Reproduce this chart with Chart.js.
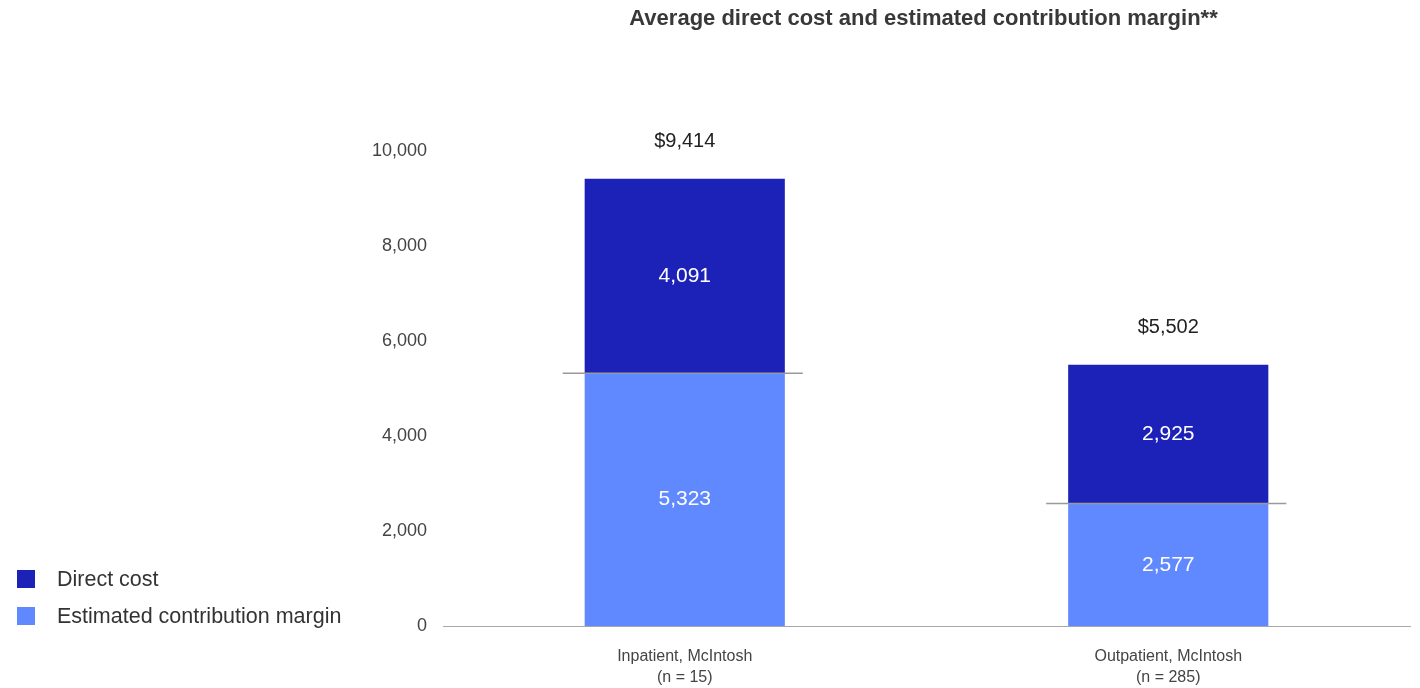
<!DOCTYPE html>
<html>
<head>
<meta charset="utf-8">
<title>Average direct cost and estimated contribution margin</title>
<script src="https://cdn.jsdelivr.net/npm/chart.js@4.4.1/dist/chart.umd.min.js"></script>
<style>
  html, body { margin: 0; padding: 0; background: #fff; }
  #wrap { position: relative; width: 1420px; height: 688px; }
</style>
</head>
<body>
<div id="wrap"><canvas id="costChart"></canvas></div>
<script>
// categories and series
const categories = [
  ["Inpatient, McIntosh", "(n = 15)"],
  ["Outpatient, McIntosh", "(n = 285)"]
];
const contributionMargin = [5323, 2577];
const directCost = [4091, 2925];
const yTicks = [0, 2000, 4000, 6000, 8000, 10000];

const DARK = "#1c22b7";
const LIGHT = "#6189ff";
const FONT = "'Liberation Sans', Arial, sans-serif";

const fmt = (v) => v.toLocaleString("en-US");

// values inside each segment, totals above, and the thin divider between segments
const barLabels = {
  id: "barLabels",
  afterDatasetsDraw(chart) {
    const ctx = chart.ctx;
    const yScale = chart.scales.y;
    const bottomMeta = chart.getDatasetMeta(0);
    const topMeta = chart.getDatasetMeta(1);
    ctx.save();
    ctx.textAlign = "center";
    ctx.textBaseline = "middle";

    bottomMeta.data.forEach((bar, i) => {
      const half = bar.width / 2;
      const yDiv = yScale.getPixelForValue(contributionMargin[i]);
      ctx.strokeStyle = "#9a9a9a";
      ctx.lineWidth = 1.5;
      ctx.beginPath();
      ctx.moveTo(bar.x - half - 22, yDiv);
      ctx.lineTo(bar.x + half + 18, yDiv);
      ctx.stroke();
    });

    ctx.fillStyle = "#ffffff";
    ctx.font = "21px " + FONT;
    bottomMeta.data.forEach((bar, i) => {
      ctx.fillText(fmt(contributionMargin[i]), bar.x, (bar.y + bar.base) / 2);
    });
    topMeta.data.forEach((bar, i) => {
      ctx.fillText(fmt(directCost[i]), bar.x, (bar.y + bar.base) / 2);
    });

    ctx.fillStyle = "#222222";
    ctx.font = "20px " + FONT;
    topMeta.data.forEach((bar, i) => {
      const total = contributionMargin[i] + directCost[i];
      ctx.fillText("$" + fmt(total), bar.x, bar.y - 37);
    });
    ctx.restore();
  }
};

// title centred over the plot area, legend at the lower left
const decorations = {
  id: "decorations",
  afterDraw(chart) {
    const ctx = chart.ctx;
    const area = chart.chartArea;
    ctx.save();
    ctx.fillStyle = "#383838";
    ctx.font = "bold 22px " + FONT;
    ctx.textAlign = "center";
    ctx.textBaseline = "middle";
    ctx.fillText("Average direct cost and estimated contribution margin**", (area.left + area.right) / 2 - 3, 19);

    const items = [chart.data.datasets[1], chart.data.datasets[0]];
    ctx.font = "21.5px " + FONT;
    ctx.textAlign = "left";
    items.forEach((ds, i) => {
      const cy = 579 + i * 37;
      ctx.fillStyle = ds.backgroundColor;
      ctx.fillRect(17, cy - 9, 18, 18);
      ctx.fillStyle = "#333333";
      ctx.fillText(ds.label, 57, cy + 1);
    });
    ctx.restore();
  }
};

new Chart(document.getElementById("costChart"), {
  type: "bar",
  data: {
    labels: categories,
    datasets: [
      {
        label: "Estimated contribution margin",
        data: contributionMargin,
        backgroundColor: LIGHT,
        categoryPercentage: 1,
        barPercentage: 0.414
      },
      {
        label: "Direct cost",
        data: directCost,
        backgroundColor: DARK,
        categoryPercentage: 1,
        barPercentage: 0.414
      }
    ]
  },
  options: {
    responsive: true,
    maintainAspectRatio: false,
    animation: false,
    layout: { padding: { left: 343, right: 10, top: 151, bottom: 0 } },
    plugins: {
      legend: { display: false },
      title: { display: false },
      tooltip: { enabled: false }
    },
    scales: {
      x: {
        stacked: true,
        grid: { display: false, drawTicks: false },
        border: { display: true, color: "#a8a8a8", width: 1 },
        ticks: {
          color: "#444444",
          padding: 20,
          font: { family: FONT, size: 16, lineHeight: 1.3 }
        },
        afterFit(scale) { scale.height = 62; }
      },
      y: {
        stacked: true,
        min: 0,
        max: 10000,
        grid: { display: false, drawTicks: false },
        border: { display: false },
        afterBuildTicks(scale) { scale.ticks = yTicks.map((v) => ({ value: v })); },
        ticks: {
          color: "#444444",
          padding: 16,
          font: { family: FONT, size: 18 },
          callback: (v) => fmt(v)
        },
        afterFit(scale) { scale.width = 100; }
      }
    }
  },
  plugins: [barLabels, decorations]
});
</script>
</body>
</html>
